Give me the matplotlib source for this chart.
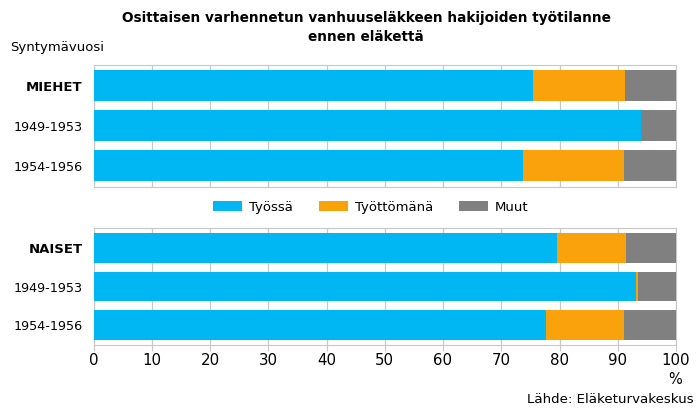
import matplotlib
matplotlib.use("Agg")
from matplotlib import pyplot as plt

categories_m = ["MIEHET", "1949-1953", "1954-1956"]
categories_n = ["NAISET", "1949-1953", "1954-1956"]
series = ["Työssä", "Työttömänä", "Muut"]

tyossa_m = [75.5, 94.0, 73.8]
tyoton_m = [15.7, 0.0, 17.3]
muut_m = [8.8, 6.0, 8.9]

tyossa_n = [79.6, 93.1, 77.6]
tyoton_n = [11.8, 0.4, 13.5]
muut_n = [8.6, 6.5, 8.9]

colors = ["#00B7F3", "#F9A20B", "#808080"]
W, H = 698, 415


def draw(ax, cats, vals):
    ys = list(range(len(cats)))
    left = [0] * len(cats)
    for v, c, name in zip(vals, colors, series):
        ax.barh(ys, v, left=left, height=0.775, color=c, label=name, zorder=3)
        left = [a + b for a, b in zip(left, v)]
    ax.set_ylim(2.525, -0.525)
    ax.set_xlim(0, 100)
    ax.set_yticks(ys)
    ax.set_yticklabels(cats, fontsize=9.2)
    ax.get_yticklabels()[0].set_fontweight("bold")
    ax.get_yticklabels()[0].set_fontsize(9.5)
    ax.set_xticks(range(0, 101, 10))
    ax.grid(axis="x", color="#c8c8c8", linewidth=0.9, zorder=0)
    for s in ax.spines.values():
        s.set_color("#c8c8c8")
    ax.tick_params(axis="y", length=0, pad=8)
    ax.tick_params(axis="x", length=4, color="#c8c8c8", labelsize=10.8, pad=2)


fig = plt.figure(figsize=(W / 100, H / 100), dpi=100)
ax1 = fig.add_axes([93.5 / W, 1 - 187 / H, 582.5 / W, 122 / H])
ax2 = fig.add_axes([93.5 / W, 1 - 345 / H, 582.5 / W, 117 / H])

draw(ax1, categories_m, [tyossa_m, tyoton_m, muut_m])
draw(ax2, categories_n, [tyossa_n, tyoton_n, muut_n])
ax2.set_ylim(2.53, -0.53)
ax1.tick_params(axis="x", labelbottom=False, length=0)

fig.text(366 / W, 1 - 27.5 / H, "Osittaisen varhennetun vanhuuseläkkeen hakijoiden työtilanne\nennen eläkettä",
         ha="center", va="center", fontsize=9.8, fontweight="bold", linespacing=1.45)
fig.text(10 / W, 1 - 47 / H, "Syntymävuosi", ha="left", va="center", fontsize=9.5)
fig.text(675 / W, 1 - 379 / H, "%", ha="center", va="center", fontsize=10.5)
fig.text(694 / W, 1 - 399 / H, "Lähde: Eläketurvakeskus", ha="right", va="center", fontsize=9.6)

h, l = ax1.get_legend_handles_labels()
fig.legend(h, l, loc="center", bbox_to_anchor=(371 / W, 1 - 207 / H), ncol=3, frameon=False,
           fontsize=9.5, handlelength=2.2, handleheight=0.8, columnspacing=2.0, handletextpad=0.5)

fig.savefig("out.png", dpi=100)
